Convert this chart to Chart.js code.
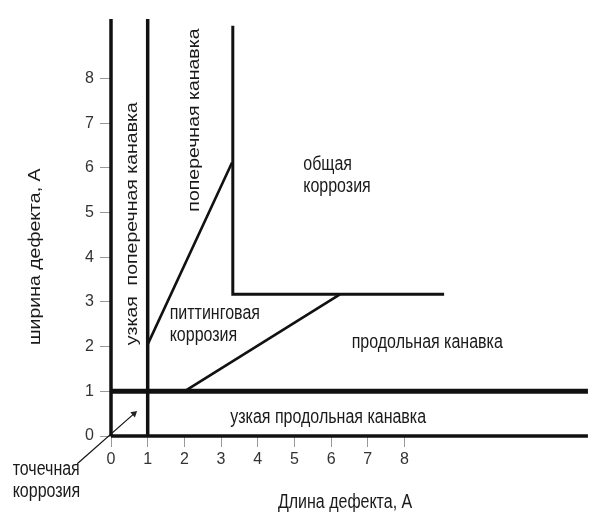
<!DOCTYPE html>
<html>
<head>
<meta charset="utf-8">
<script src="https://cdn.jsdelivr.net/npm/chart.js@4"></script>
<style>
  html, body { margin: 0; padding: 0; background: #fff; }
  #wrap { width: 589px; height: 513px; position: relative; }
</style>
</head>
<body>
<div id="wrap"><canvas id="chart1"></canvas></div>
<script>
const xTicks = [0, 1, 2, 3, 4, 5, 6, 7, 8];
const yTicks = [0, 1, 2, 3, 4, 5, 6, 7, 8];

// zone borders, defect length / width in A
const leftEdge = [{x: 0, y: 0}, {x: 0, y: 9.33}];
const narrowTransverse = [{x: 1, y: 0}, {x: 1, y: 9.33}];
const generalEdge = [{x: 3.32, y: 9.18}, {x: 3.32, y: 3.17}, {x: 9.08, y: 3.17}];
const pittingUpper = [{x: 1, y: 2.05}, {x: 3.3, y: 6.12}];
const pittingLower = [{x: 2, y: 1}, {x: 6.24, y: 3.17}];
const narrowLongTop = [{x: 0, y: 1}, {x: 13, y: 1}];
const baseLine = [{x: 0, y: 0}, {x: 13, y: 0}];
const pointArrow = [{x: -0.92, y: -0.62}, {x: 0.63, y: 0.5}];

const zoneLabels = [
    {text: ["узкая  поперечная канавка"], x: 0.6, y: 4.75, rot: true},
    {text: ["поперечная канавка"], x: 2.27, y: 7.07, rot: true},
    {text: ["общая", "коррозия"], x: 5.24, y: 6.08, left: true},
    {text: ["питтинговая", "коррозия"], x: 1.6, y: 2.73, left: true},
    {text: ["продольная канавка"], x: 8.62, y: 2.08},
    {text: ["узкая продольная канавка"], x: 5.92, y: 0.4},
    {text: ["точечная", "коррозия"], x: -2.68, y: -0.75, left: true},
    {text: ["Длина дефекта, А"], x: 6.38, y: -1.49},
    {text: ["ширина дефекта, А"], x: -2.05, y: 4.01, rot: true},
];

const ctx = document.getElementById("chart1").getContext("2d");

Chart.defaults.font.family = "'Liberation Sans', Arial, sans-serif";

function seg(data, width) {
    return {
        data,
        showLine: true,
        borderColor: '#111',
        borderWidth: width,
        pointRadius: 0,
        fill: false,
        clip: false,
    };
}

// text is squeezed sideways like the scanned picture
const labelPlugin = {
    id: 'zoneLabels',
    afterDatasetsDraw(chart) {
        const {ctx, scales: {x, y}} = chart;
        ctx.save();
        ctx.fillStyle = '#1a1a1a';
        ctx.font = "19.5px 'Liberation Sans', Arial, sans-serif";
        ctx.textBaseline = 'middle';
        zoneLabels.forEach(l => {
            const px = x.getPixelForValue(l.x);
            const py = y.getPixelForValue(l.y);
            ctx.save();
            ctx.translate(px, py);
            ctx.scale(0.82, 1);
            if (l.rot) ctx.rotate(-Math.PI / 2);
            ctx.textAlign = l.left ? 'left' : 'center';
            l.text.forEach((t, i) => {
                ctx.fillText(t, 0, i * 22);
            });
            ctx.restore();
        });
        ctx.restore();
    }
};

const arrow = seg(pointArrow, 1.2);
arrow.pointRadius = [0, 4];
arrow.pointStyle = 'triangle';
arrow.pointRotation = 49;
arrow.pointBackgroundColor = '#222';
arrow.pointBorderColor = '#222';
arrow.pointBorderWidth = 0;

const config = {
    type: 'scatter',
    data: {
        datasets: [
            seg(leftEdge, 3.5),
            seg(narrowTransverse, 3.5),
            seg(generalEdge, 3),
            seg(pittingUpper, 2.6),
            seg(pittingLower, 2.6),
            seg(narrowLongTop, 5),
            seg(baseLine, 3.5),
            arrow,
        ]
    },
    options: {
        responsive: true,
        maintainAspectRatio: false,
        animation: false,
        layout: { padding: 0 },
        scales: {
            x: {
                type: 'linear',
                min: 0,
                max: 12.92,
                position: 'bottom',
                afterBuildTicks: s => { s.ticks = xTicks.map(v => ({value: v})); },
                afterFit: s => { s.height = 77; s.paddingLeft = 0; s.paddingRight = 0; },
                border: { display: false },
                grid: { drawOnChartArea: false, drawTicks: true, tickLength: 11, color: '#999' },
                ticks: { autoSkip: false, maxRotation: 0, padding: 3, color: '#333', font: { size: 16 } },
            },
            y: {
                type: 'linear',
                min: 0,
                max: 9.667,
                position: 'left',
                afterBuildTicks: s => { s.ticks = yTicks.map(v => ({value: v})); },
                afterFit: s => { s.width = 111; s.paddingTop = 0; s.paddingBottom = 0; },
                border: { display: false },
                grid: { drawOnChartArea: false, drawTicks: true, tickLength: 11, color: '#999' },
                ticks: { autoSkip: false, padding: 6, color: '#333', font: { size: 16 } },
            }
        },
        plugins: {
            legend: { display: false },
            tooltip: { enabled: false },
        }
    },
    plugins: [labelPlugin]
};

const newChart = new Chart(ctx, config);
</script>
</body>
</html>
